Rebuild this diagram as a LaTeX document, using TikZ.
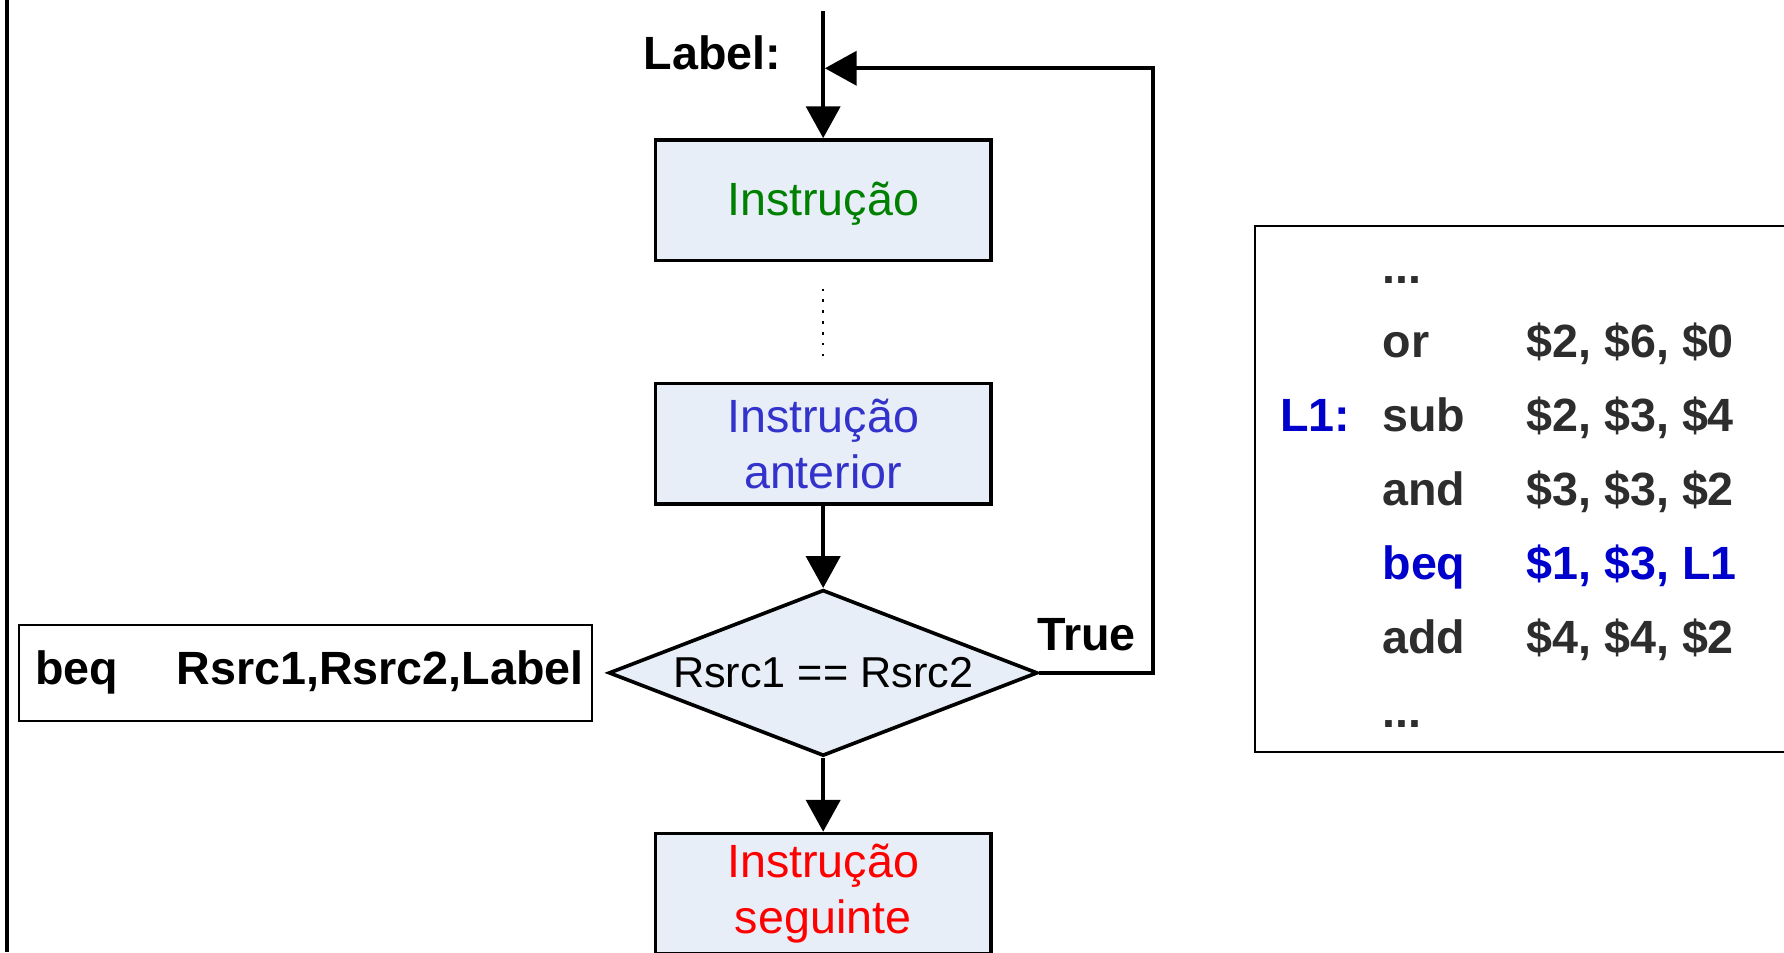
\documentclass[tikz,border=0pt]{standalone}
\usepackage{fontspec}
\setmainfont{Liberation Sans}
\usepackage{xcolor}
\usepackage{tikz}
\usetikzlibrary{positioning}
\usetikzlibrary{arrows.meta}
\usetikzlibrary{shapes,calc}
\definecolor{boxfill}{RGB}{232,238,247}
\definecolor{instgreen}{RGB}{0,128,0}
\definecolor{instblue}{RGB}{51,51,204}
\definecolor{instred}{RGB}{255,0,0}
\definecolor{asmblue}{RGB}{0,0,204}
\definecolor{asmgray}{RGB}{45,45,45}
\newcommand{\bigfont}{\fontsize{20.5}{24.5}\selectfont}
\tikzset{main node/.style={rectangle,fill=boxfill,draw,line width=1.6pt,minimum width=147.5pt,minimum height=53pt,inner sep=0pt,align=center,font=\bigfont},
  cond node/.style={diamond,fill=boxfill,draw,line width=1.6pt,minimum width=188.5pt,minimum height=73pt,inner sep=0pt,aspect=2.6,font=\fontsize{19}{23}\selectfont},
  thin box/.style={rectangle,draw,line width=0.9pt,inner sep=0pt},
  asm/.style={anchor=base west,inner sep=0pt,text=asmgray,font=\bigfont\bfseries},
  tag/.style={inner sep=0pt,font=\bigfont\bfseries},}

\begin{document}
\begin{tikzpicture}[->,>={Triangle[length=14pt,width=15pt]},x=0.5pt,y=-0.5pt,line width=1.6pt]
    \useasboundingbox (0,0) rectangle (1568,837);
    \clip (0,0) rectangle (1568,837);

    % flow chart
    \node[main node,text=instgreen] (inst) at (723.5,176) {\raisebox{-1.5pt}[\height][\depth]{Instrução}};
    \node[main node,text=instblue] (prev) [below=52.5pt of inst] {Instrução\\anterior};
    \node[cond node] (cond) [below=36pt of prev] {Rsrc1 == Rsrc2};
    \node[main node,text=instred] (next) [below=32.5pt of cond] {Instrução\\seguinte};
    \node[thin box,minimum width=252pt,minimum height=42.5pt,font=\bigfont\bfseries] (syntax) [left=6pt of cond] {\hspace*{3.5pt}beq\hspace{1.25em}Rsrc1,Rsrc2,Label};

    \node[tag,anchor=base east] (lbl) at (688,61) {Label:};
    \node[tag,anchor=base west] (true) at (910,572) {True};

    \coordinate (top) at (723.5,10);
    \coordinate (join) at (725,60);

    \draw (top) -- (inst);
    \draw[-,line width=1pt,dash pattern=on 1pt off 3.8pt] ([yshift=-11.5pt]inst.south) -- ([yshift=8.5pt]prev.north);
    \draw (prev) -- (cond);
    \draw (cond) -- (next);
    \draw (cond.east) -- ++(100,0) |- (join);

    % frame line
    \draw[-,line width=2pt] (6,0) -- (6,837);

    % assembly listing
    \node[thin box,minimum width=250pt,minimum height=231pt] (listing) at (1353,430) {};
    \node[asm] (dots1) at (1213.5,249) {...};
    \node[asm] (op1) at (1213.5,314) {or};
    \node[asm] (arg1) at (1340,314) {\$2, \$6, \$0};
    \node[asm,text=asmblue] (l1) at (1123.5,379) {L1:};
    \node[asm] (op2) at (1213.5,379) {sub};
    \node[asm] (arg2) at (1340,379) {\$2, \$3, \$4};
    \node[asm] (op3) at (1213.5,444) {and};
    \node[asm] (arg3) at (1340,444) {\$3, \$3, \$2};
    \node[asm,text=asmblue] (op4) at (1213.5,509) {beq};
    \node[asm,text=asmblue] (arg4) at (1340,509) {\$1, \$3, L1};
    \node[asm] (op5) at (1213.5,574) {add};
    \node[asm] (arg5) at (1340,574) {\$4, \$4, \$2};
    \node[asm] (dots2) at (1213.5,639) {...};
\end{tikzpicture}
\end{document}
